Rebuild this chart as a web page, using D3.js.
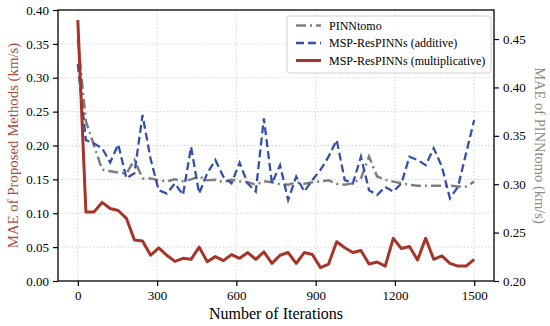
<!DOCTYPE html>
<html lang="en">
<head>
  <meta charset="UTF-8">
  <title>MAE vs Number of Iterations</title>
  <script src="https://d3js.org/d3.v7.min.js"></script>
  <style>
    body { margin: 0; background: #fff; }
    svg text { font-family: "Liberation Serif", "Times New Roman", Times, serif; }
  </style>
</head>
<body>
  <svg width="550" height="326"></svg>

  <script>
    const width = 550, height = 326;
    const margin = { top: 10, right: 56, bottom: 45, left: 58 };

    // 50 recorded epochs spread over 0..1500 iterations
    const nPoints = 50;
    const xTicks = [0, 300, 600, 900, 1200, 1500];
    const leftTicks = [0.00, 0.05, 0.10, 0.15, 0.20, 0.25, 0.30, 0.35, 0.40];
    const rightTicks = [0.20, 0.25, 0.30, 0.35, 0.40, 0.45];

    // MSP-ResPINNs (multiplicative), left axis
    const multiplicative = [
      0.385, 0.102, 0.102, 0.116, 0.107, 0.104, 0.0925, 0.0605, 0.059, 0.038,
      0.049, 0.038, 0.029, 0.0335, 0.032, 0.050, 0.0285, 0.036, 0.030, 0.039,
      0.0335, 0.042, 0.032, 0.043, 0.026, 0.038, 0.042, 0.026, 0.042, 0.039,
      0.0197, 0.025, 0.058, 0.049, 0.042, 0.045, 0.025, 0.028, 0.022, 0.063,
      0.048, 0.051, 0.031, 0.063, 0.032, 0.037, 0.026, 0.022, 0.022, 0.032
    ];

    // MSP-ResPINNs (additive), left axis
    const additive = [
      0.32, 0.208, 0.203, 0.196, 0.175, 0.2017, 0.1515, 0.159, 0.245, 0.18,
      0.134, 0.129, 0.144, 0.127, 0.198, 0.129, 0.159, 0.1786, 0.154, 0.144,
      0.1746, 0.144, 0.132, 0.240, 0.144, 0.171, 0.1196, 0.154, 0.132, 0.149,
      0.164, 0.1835, 0.208, 0.149, 0.144, 0.1835, 0.134, 0.127, 0.139, 0.132,
      0.144, 0.1835, 0.1786, 0.171, 0.196, 0.169, 0.122, 0.139, 0.1885, 0.2376
    ];

    // PINNtomo, right axis
    const pinntomo = [
      0.45, 0.365, 0.340, 0.315, 0.3135, 0.312, 0.311, 0.325, 0.306, 0.306,
      0.304, 0.303, 0.305, 0.303, 0.305, 0.308, 0.304, 0.3045, 0.302, 0.3045,
      0.303, 0.302, 0.2995, 0.303, 0.302, 0.300, 0.2995, 0.302, 0.3005, 0.302,
      0.303, 0.304, 0.3005, 0.2995, 0.301, 0.306, 0.3286, 0.308, 0.3045, 0.3027,
      0.301, 0.2993, 0.2985, 0.2985, 0.2985, 0.2983, 0.2985, 0.2976, 0.2976, 0.3027
    ];

    const iterations = d3.range(nPoints).map(i => i * 1500 / (nPoints - 1));

    const svg = d3.select("svg");
    const innerWidth = width - margin.left - margin.right;
    const innerHeight = height - margin.top - margin.bottom;
    const g = svg.append("g").attr("transform", `translate(${margin.left},${margin.top})`);

    const x = d3.scaleLinear().domain([-75, 1575]).range([0, innerWidth]);
    const yL = d3.scaleLinear().domain([0, 0.4]).range([innerHeight, 0]);
    const yR = d3.scaleLinear().domain([0.2, 0.48]).range([innerHeight, 0]);

    // Grid (dotted)
    g.selectAll(".vgrid").data(xTicks).enter().append("line")
      .attr("x1", d => x(d)).attr("x2", d => x(d))
      .attr("y1", 0).attr("y2", innerHeight)
      .attr("stroke", "#d4d4d4").attr("stroke-width", 1).attr("stroke-dasharray", "1.5,2");
    g.selectAll(".hgrid").data(leftTicks.slice(1, -1)).enter().append("line")
      .attr("x1", 0).attr("x2", innerWidth)
      .attr("y1", d => yL(d)).attr("y2", d => yL(d))
      .attr("stroke", "#d4d4d4").attr("stroke-width", 1).attr("stroke-dasharray", "1.5,2");

    // Lines
    const lineL = d3.line().x((d, i) => x(iterations[i])).y(d => yL(d));
    const lineR = d3.line().x((d, i) => x(iterations[i])).y(d => yR(d));

    g.append("path").datum(pinntomo)
      .attr("d", lineR).attr("fill", "none")
      .attr("stroke", "#7f7f7f").attr("stroke-width", 2.5)
      .attr("stroke-dasharray", "10,4,2,4");

    g.append("path").datum(additive)
      .attr("d", lineL).attr("fill", "none")
      .attr("stroke", "#3450a8").attr("stroke-width", 2.3)
      .attr("stroke-dasharray", "8,4");

    g.append("path").datum(multiplicative)
      .attr("d", lineL).attr("fill", "none")
      .attr("stroke", "#a5352a").attr("stroke-width", 3)
      .attr("stroke-linejoin", "round");

    // Axes
    const fmt = d3.format(".2f");
    const xAxis = g.append("g").attr("transform", `translate(0,${innerHeight})`)
      .call(d3.axisBottom(x).tickValues(xTicks).tickFormat(d3.format("d")).tickSize(5).tickPadding(5));
    const leftAxis = g.append("g")
      .call(d3.axisLeft(yL).tickValues(leftTicks).tickFormat(fmt).tickSize(5).tickPadding(4));
    const rightAxis = g.append("g").attr("transform", `translate(${innerWidth},0)`)
      .call(d3.axisRight(yR).tickValues(rightTicks).tickFormat(fmt).tickSize(5).tickPadding(4));

    [xAxis, leftAxis, rightAxis].forEach(a => {
      a.attr("font-family", null);
      a.select(".domain").remove();
      a.selectAll("text").attr("font-size", "13px").attr("fill", "#000");
      a.selectAll("line").attr("stroke", "#000").attr("stroke-width", 1.2);
    });

    // Frame
    g.append("rect").attr("width", innerWidth).attr("height", innerHeight)
      .attr("fill", "none").attr("stroke", "#000").attr("stroke-width", 1.3);

    // Axis labels
    svg.append("text")
      .attr("x", margin.left + innerWidth / 2).attr("y", height - 7)
      .attr("text-anchor", "middle").attr("font-size", "16px")
      .text("Number of Iterations");

    svg.append("text")
      .attr("transform", `translate(18,${margin.top + innerHeight / 2}) rotate(-90)`)
      .attr("text-anchor", "middle").attr("font-size", "14.8px")
      .attr("fill", "#a84c3c")
      .text("MAE of Proposed Methods (km/s)");

    svg.append("text")
      .attr("transform", `translate(535,${margin.top + innerHeight / 2}) rotate(90)`)
      .attr("text-anchor", "middle").attr("font-size", "14.5px")
      .attr("fill", "#8a8a8a")
      .text("MAE of PINNtomo (km/s)");

    // Legend
    const legendItems = [
      { label: "PINNtomo", color: "#7f7f7f", dash: "10,4,2,4", width: 2.5 },
      { label: "MSP-ResPINNs (additive)", color: "#3450a8", dash: "8,4", width: 2.3 },
      { label: "MSP-ResPINNs (multiplicative)", color: "#a5352a", dash: null, width: 3 }
    ];
    const legend = svg.append("g").attr("transform", "translate(287,16)");
    legend.append("rect")
      .attr("width", 204).attr("height", 57).attr("rx", 2)
      .attr("fill", "#fff").attr("fill-opacity", 0.85)
      .attr("stroke", "#d0d0d0").attr("stroke-width", 1);
    legendItems.forEach((d, i) => {
      const row = legend.append("g").attr("transform", `translate(0,${9.5 + i * 17.5})`);
      row.append("line")
        .attr("x1", 9).attr("x2", 34).attr("y1", 0).attr("y2", 0)
        .attr("stroke", d.color).attr("stroke-width", d.width)
        .attr("stroke-dasharray", d.dash);
      row.append("text")
        .attr("x", 42).attr("y", 0).attr("dy", "0.35em")
        .attr("font-size", "12px")
        .text(d.label);
    });
  </script>
</body>
</html>
